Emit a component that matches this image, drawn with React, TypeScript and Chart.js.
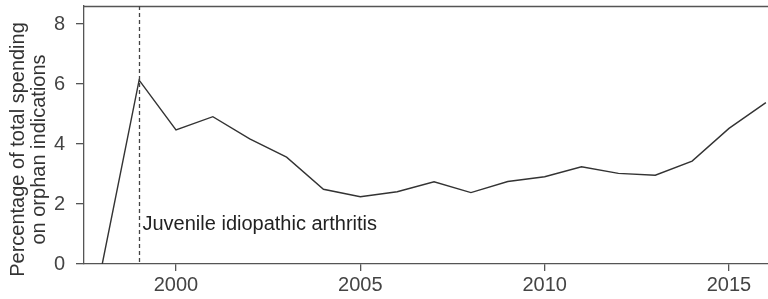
import React, { useEffect, useRef } from "react";
import { Chart, registerables } from "chart.js";

Chart.register(...registerables);

const years = [1998, 1999, 2000, 2001, 2002, 2003, 2004, 2005, 2006, 2007, 2008, 2009, 2010, 2011, 2012, 2013, 2014, 2015, 2016];
const percentages = [0, 6.13, 4.47, 4.91, 4.17, 3.56, 2.49, 2.24, 2.41, 2.74, 2.38, 2.75, 2.91, 3.24, 3.02, 2.96, 3.43, 4.52, 5.38];
const xTickValues = [2000, 2005, 2010, 2015];
const yTickValues = [0, 2, 4, 6, 8];
const yTitleLines = ["Percentage of total spending", "on orphan indications"];
const annotationYear = 1999;
const annotationLabel = "Juvenile idiopathic arthritis";
const annotationLabelY = 1.13;

export default function App() {
  const canvasRef = useRef<HTMLCanvasElement | null>(null);

  useEffect(() => {
    document.body.style.margin = "0";
    const canvas = canvasRef.current;
    if (!canvas) return;

    const overlay = {
      id: "overlay",
      afterDraw(chart: any) {
        const { ctx, chartArea, scales } = chart;
        const xs = scales.x;
        const ys = scales.y;
        ctx.save();
        // top border
        ctx.strokeStyle = "#555";
        ctx.lineWidth = 1.3;
        ctx.beginPath();
        ctx.moveTo(chartArea.left, chartArea.top + 0.5);
        ctx.lineTo(chartArea.right, chartArea.top + 0.5);
        ctx.stroke();
        // dashed vertical marker
        const xm = Math.round(xs.getPixelForValue(annotationYear)) + 0.5;
        ctx.strokeStyle = "#444";
        ctx.lineWidth = 1.3;
        ctx.setLineDash([4, 3]);
        ctx.beginPath();
        ctx.moveTo(xm, chartArea.top);
        ctx.lineTo(xm, chartArea.bottom);
        ctx.stroke();
        ctx.setLineDash([]);
        // annotation text
        ctx.fillStyle = "#222";
        ctx.font = "20px 'Liberation Sans', Arial, sans-serif";
        ctx.textAlign = "left";
        ctx.textBaseline = "alphabetic";
        ctx.fillText(annotationLabel, xm + 3, ys.getPixelForValue(annotationLabelY));
        // y axis title
        ctx.translate(0, 149.5);
        ctx.rotate(-Math.PI / 2);
        ctx.textAlign = "center";
        ctx.textBaseline = "middle";
        ctx.fillStyle = "#333";
        ctx.fillText(yTitleLines[0], 0, 18);
        ctx.fillText(yTitleLines[1], 0, 39);
        ctx.restore();
      },
    };

    const chart = new Chart(canvas, {
      type: "line",
      data: {
        datasets: [
          {
            data: years.map((x, i) => ({ x, y: percentages[i] })),
            borderColor: "#333",
            borderWidth: 1.4,
            pointRadius: 0,
            tension: 0,
            fill: false,
          },
        ],
      },
      options: {
        animation: false,
        responsive: true,
        maintainAspectRatio: false,
        layout: { padding: { top: 6, right: 0, left: 0, bottom: 0 } },
        plugins: { legend: { display: false }, tooltip: { enabled: false } },
        scales: {
          x: {
            type: "linear",
            min: 1997.505,
            max: 2016.058,
            afterBuildTicks: (scale: any) => {
              scale.ticks = xTickValues.map((v) => ({ value: v }));
            },
            afterFit: (scale: any) => {
              scale.height = 35;
              scale.paddingLeft = 0;
              scale.paddingRight = 0;
            },
            grid: { drawOnChartArea: false, drawTicks: true, tickLength: 7, color: "#555", lineWidth: 1.3 },
            border: { display: true, color: "#555", width: 1.3 },
            ticks: {
              color: "#444",
              font: { size: 20, family: "'Liberation Sans', Arial, sans-serif" },
              padding: 2,
              maxRotation: 0,
              autoSkip: false,
              callback: (v: any) => String(v),
            },
          },
          y: {
            type: "linear",
            min: 0,
            max: 8.6,
            afterBuildTicks: (scale: any) => {
              scale.ticks = yTickValues.map((v) => ({ value: v }));
            },
            afterFit: (scale: any) => {
              scale.width = 84;
              scale.paddingTop = 0;
              scale.paddingBottom = 0;
            },
            grid: { drawOnChartArea: false, drawTicks: true, tickLength: 8, color: "#555", lineWidth: 1.3 },
            border: { display: true, color: "#555", width: 1.3 },
            ticks: {
              color: "#444",
              font: { size: 20, family: "'Liberation Sans', Arial, sans-serif" },
              padding: 11,
              autoSkip: false,
              callback: (v: any) => String(v),
            },
          },
        },
      },
      plugins: [overlay],
    });

    return () => chart.destroy();
  }, []);

  return (
    <div style={{ position: "absolute", left: 0, top: 0, width: 768, height: 299, background: "#fff" }}>
      <canvas ref={canvasRef} />
    </div>
  );
}
